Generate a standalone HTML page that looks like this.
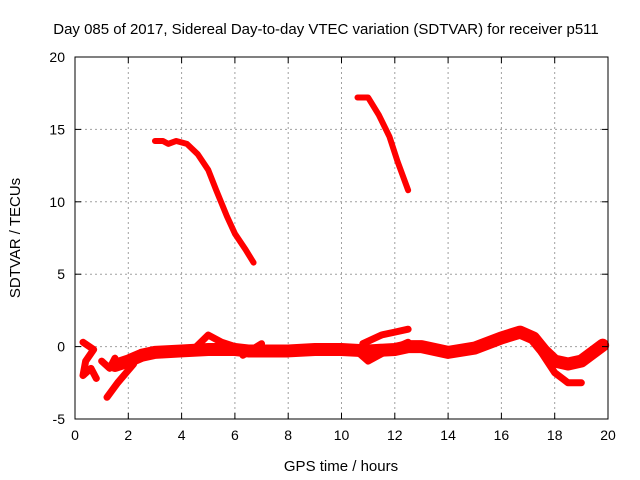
<!DOCTYPE html>
<html><head><meta charset="utf-8"><style>
body{margin:0;background:#fff;}
svg{display:block;font-family:"Liberation Sans",sans-serif;}
</style></head><body>
<svg id="chart" width="640" height="480">
<text x="326" y="34" font-size="15" text-anchor="middle">Day 085 of 2017, Sidereal Day-to-day VTEC variation (SDTVAR) for receiver p511</text>
<text x="341" y="471" font-size="15" text-anchor="middle">GPS time / hours</text>
<text transform="translate(20,238) rotate(-90)" font-size="15" text-anchor="middle">SDTVAR / TECUs</text>
<g id="grid"></g><g id="series"></g><g id="axes"></g>
</svg>
<script>
const xTicks=[0,2,4,6,8,10,12,14,16,18,20];
const yTicks=[-5,0,5,10,15,20];
const arcMorning=[[3.0,14.2],[3.3,14.2],[3.5,14.0],[3.8,14.2],[4.2,14.0],[4.6,13.3],[5.0,12.2],[5.3,10.8],[5.7,9.0],[6.0,7.8],[6.4,6.7],[6.7,5.8]];
const arcNoon=[[10.6,17.2],[11.0,17.2],[11.4,16.0],[11.8,14.5],[12.1,12.8],[12.5,10.8]];
const mainBand=[[1.5,-1.3],[2,-1.0],[2.5,-0.6],[3,-0.4],[4,-0.3],[5,-0.2],[6,-0.2],[6.5,-0.3],[7,-0.3],[8,-0.3],[9,-0.2],[10,-0.2],[11,-0.3],[12,-0.2],[12.5,0],[13,0],[14,-0.4],[15,-0.1],[16,0.6],[16.7,1.0],[17.2,0.6],[17.6,-0.3],[18,-1.0],[18.5,-1.2],[19,-1.0],[19.8,0.1]];
const lateLoop=[[17.5,-0.4],[18,-1.8],[18.5,-2.5],[19,-2.5]];
const bump5=[[4.5,-0.1],[5,0.8],[5.5,0.3],[6.5,-0.3]];
const loop65=[[6.3,-0.6],[7.0,0.2]];
const low10=[[10,-0.1],[10.5,-0.2],[11,-1.0],[11.5,-0.5],[12,-0.1],[12.5,0.3]];
const up10=[[10.8,0.2],[11.5,0.8],[12,1.0],[12.5,1.2]];
const leftA=[[0.3,0.3],[0.7,-0.2],[0.4,-1],[0.3,-2],[0.6,-1.5],[0.8,-2.2]];
const leftB=[[1.0,-1.0],[1.3,-1.5],[1.5,-0.8]];
const leftC=[[1.2,-3.5],[1.6,-2.5],[2.2,-1.2]];
const allSeries=[[arcMorning,6],[arcNoon,6],[mainBand,13],[lateLoop,7],[bump5,7],[loop65,7],[low10,7],[up10,7],[leftA,7],[leftB,7],[leftC,7]];
const X0=75,X1=608,Y0=419,Y1=57;
const sx=v=>X0+(v-0)/20*(X1-X0);
const sy=v=>Y0-(v+5)/25*(Y0-Y1);
const NS="http://www.w3.org/2000/svg";
function mk(p,t,a){const e=document.createElementNS(NS,t);for(const k in a)e.setAttribute(k,a[k]);p.appendChild(e);return e;}
const grid=document.getElementById('grid'),axes=document.getElementById('axes'),ser=document.getElementById('series');
xTicks.forEach(t=>{const x=sx(t);
 if(t>0&&t<20){const g=mk(grid,'line',{x1:x,x2:x,y1:Y1,y2:Y0,stroke:'#a0a0a0','stroke-dasharray':'2,3'});
 
 }
 mk(axes,'line',{x1:x,x2:x,y1:Y0,y2:Y0-6,stroke:'#000'});mk(axes,'line',{x1:x,x2:x,y1:Y1,y2:Y1+6,stroke:'#000'});
 const l=mk(axes,'text',{x:x,y:Y0+21,'font-size':14,'text-anchor':'middle'});l.textContent=t;
 
 });
yTicks.forEach(t=>{const y=sy(t);
 if(t>-5&&t<20){const g=mk(grid,'line',{x1:X0,x2:X1,y1:y,y2:y,stroke:'#a0a0a0','stroke-dasharray':'2,3'});
 
 }
 mk(axes,'line',{x1:X0,x2:X0+6,y1:y,y2:y,stroke:'#000'});mk(axes,'line',{x1:X1,x2:X1-6,y1:y,y2:y,stroke:'#000'});
 const l=mk(axes,'text',{x:X0-10,y:y+5,'font-size':14,'text-anchor':'end'});l.textContent=t;
 
 });
const fr=mk(axes,'rect',{x:X0,y:Y1,width:X1-X0,height:Y0-Y1,fill:'none',stroke:'#000'});


allSeries.forEach(([d,w])=>{const p=mk(ser,'polyline',{points:d.map(q=>sx(q[0])+','+sy(q[1])).join(' '),fill:'none',stroke:'#ff0000','stroke-width':w,'stroke-linejoin':'round','stroke-linecap':'round'});
 
 });
</script>
</body></html>
